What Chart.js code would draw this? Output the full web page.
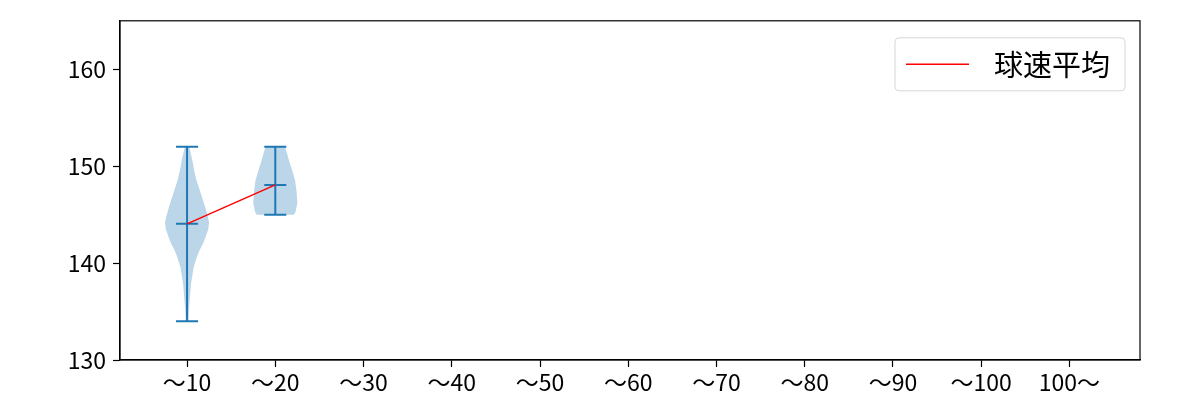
<!DOCTYPE html>
<html>
<head>
<meta charset="utf-8">
<script src="https://cdn.jsdelivr.net/npm/chart.js@4.4.1/dist/chart.umd.min.js"></script>
<style>
  html, body { margin: 0; padding: 0; background: #fff; }
  #wrap { width: 1200px; height: 400px; }
</style>
</head>
<body>
<div id="wrap"><canvas id="chart"></canvas></div>
<script>
const categories = ['～10', '～20', '～30', '～40', '～50', '～60', '～70', '～80', '～90', '～100', '100～'];
const speedMean = [144.05, 148.07, null, null, null, null, null, null, null, null, null];
const speedMin = [134, 145, null, null, null, null, null, null, null, null, null];
const speedMax = [152, 152, null, null, null, null, null, null, null, null, null];
const yTicks = [130, 140, 150, 160];

// violin outlines: speed and half width (category units)
const violin1Speed = [134.0, 135.0, 136.2, 137.9, 139.6, 140.6, 141.3, 142.0, 142.7, 143.5, 144.2, 144.8, 145.8, 146.5, 147.5, 148.6, 149.6, 150.6, 151.4, 152.0];
const violin1Width = [0.015, 0.02, 0.03, 0.045, 0.076, 0.11, 0.14, 0.18, 0.21, 0.24, 0.25, 0.235, 0.205, 0.18, 0.145, 0.105, 0.08, 0.06, 0.04, 0.026];
const violin2Speed = [145.0, 145.3, 146.2, 147.5, 148.5, 149.3, 150.6, 151.4, 152.0];
const violin2Width = [0.21, 0.23, 0.25, 0.24, 0.225, 0.2, 0.155, 0.13, 0.11];

const violins = [
  { cat: 0, speed: violin1Speed, width: violin1Width },
  { cat: 1, speed: violin2Speed, width: violin2Width }
];

const BLUE = '#1f77b4';
const FONT = "'Noto Sans CJK JP', 'Noto Sans', sans-serif";

const violinPlugin = {
  id: 'violins',
  beforeDatasetsDraw(chart) {
    const { ctx, scales: { x, y } } = chart;
    ctx.save();
    violins.forEach(v => {
      const pos = v.cat + 1;
      ctx.beginPath();
      v.speed.forEach((s, i) => {
        const px = x.getPixelForValue(pos + v.width[i]);
        const py = y.getPixelForValue(s);
        if (i === 0) ctx.moveTo(px, py); else ctx.lineTo(px, py);
      });
      for (let i = v.speed.length - 1; i >= 0; i--) {
        ctx.lineTo(x.getPixelForValue(pos - v.width[i]), y.getPixelForValue(v.speed[i]));
      }
      ctx.closePath();
      ctx.fillStyle = 'rgba(31, 119, 180, 0.3)';
      ctx.fill();
    });

    // min/max bars and mean marks
    ctx.strokeStyle = BLUE;
    ctx.lineWidth = 2;
    speedMin.forEach((lo, i) => {
      if (lo == null) return;
      const pos = i + 1;
      const cx = x.getPixelForValue(pos);
      ctx.beginPath();
      ctx.moveTo(cx, y.getPixelForValue(lo));
      ctx.lineTo(cx, y.getPixelForValue(speedMax[i]));
      [lo, speedMax[i], speedMean[i]].forEach(val => {
        const yy = y.getPixelForValue(val);
        ctx.moveTo(x.getPixelForValue(pos - 0.125), yy);
        ctx.lineTo(x.getPixelForValue(pos + 0.125), yy);
      });
      ctx.stroke();
    });
    ctx.restore();
  }
};

const framePlugin = {
  id: 'frame',
  afterDatasetsDraw(chart) {
    const { ctx, chartArea: a } = chart;
    ctx.save();
    ctx.strokeStyle = '#000';
    ctx.lineWidth = 1.2;
    ctx.strokeRect(a.left, a.top, a.right - a.left, a.bottom - a.top);
    ctx.restore();
  },
  afterDraw(chart) {
    // legend inside the plot, upper right
    const { ctx, chartArea: a } = chart;
    const ds = chart.data.datasets[0];
    ctx.save();
    ctx.font = '29px ' + FONT;
    const tw = ctx.measureText(ds.label).width;
    const w = 99 + tw + 15, h = 53;
    const left = a.right - 15 - w, top = a.top + 17;
    ctx.beginPath();
    ctx.roundRect(left, top, w, h, 4);
    ctx.fillStyle = 'rgba(255,255,255,0.8)';
    ctx.fill();
    ctx.strokeStyle = '#d6d6d6';
    ctx.lineWidth = 1;
    ctx.stroke();
    ctx.beginPath();
    ctx.moveTo(left + 11, top + h / 2);
    ctx.lineTo(left + 74, top + h / 2);
    ctx.strokeStyle = ds.borderColor;
    ctx.lineWidth = 1.5;
    ctx.stroke();
    ctx.fillStyle = '#000';
    ctx.textBaseline = 'middle';
    ctx.fillText(ds.label, left + 99, top + h / 2 + 1);
    ctx.restore();
  }
};

Chart.defaults.font.family = FONT;
Chart.defaults.font.size = 23;
Chart.defaults.color = '#000';

new Chart(document.getElementById('chart'), {
  type: 'line',
  data: {
    datasets: [{
      label: '球速平均',
      data: speedMean.map((v, i) => ({ x: i + 1, y: v })),
      borderColor: 'red',
      borderWidth: 1.5,
      pointRadius: 0,
      fill: false,
      tension: 0
    }]
  },
  options: {
    responsive: true,
    maintainAspectRatio: false,
    animation: false,
    layout: { padding: { left: 0, top: 19, right: 60, bottom: 0 } },
    plugins: { legend: { display: false }, tooltip: { enabled: false } },
    scales: {
      x: {
        type: 'linear',
        min: 0.24,
        max: 11.8,
        afterBuildTicks: axis => { axis.ticks = categories.map((c, i) => ({ value: i + 1 })); },
        afterFit: axis => { axis.height = 40; },
        ticks: {
          autoSkip: false,
          maxRotation: 0,
          padding: 1,
          callback: value => categories[Math.round(value) - 1]
        },
        grid: { drawOnChartArea: false, drawTicks: true, tickLength: 7, tickWidth: 1.2, tickColor: '#000' },
        border: { display: true, color: '#000', width: 1.2 }
      },
      y: {
        min: 130,
        max: 165,
        afterBuildTicks: axis => { axis.ticks = yTicks.map(v => ({ value: v })); },
        afterFit: axis => { axis.width = 120; },
        ticks: { padding: 7 },
        grid: { drawOnChartArea: false, drawTicks: true, tickLength: 7, tickWidth: 1.2, tickColor: '#000' },
        border: { display: true, color: '#000', width: 1.2 }
      }
    }
  },
  plugins: [violinPlugin, framePlugin]
});
</script>
</body>
</html>
